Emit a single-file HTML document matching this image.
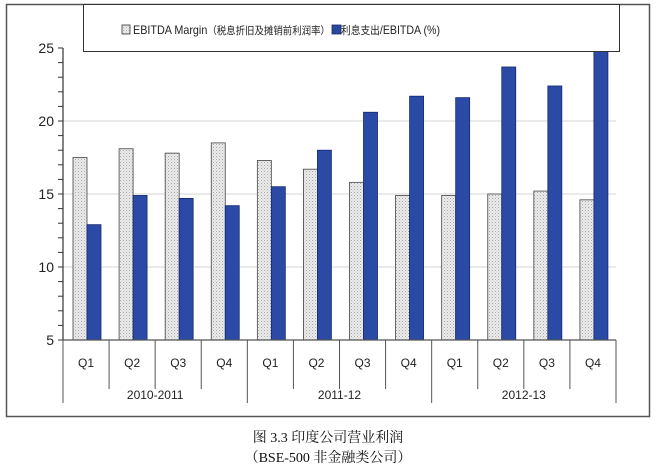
<!DOCTYPE html>
<html><head><meta charset="utf-8"><style>
body{margin:0;background:#fff;}
svg{display:block;font-family:"Liberation Sans","Noto Sans CJK SC",sans-serif;}
</style></head><body>
<svg id="c" width="656" height="470" viewBox="0 0 656 470">
<defs>
<pattern id="dots" width="3" height="3" patternUnits="userSpaceOnUse">
<rect width="3" height="3" fill="#ececec"/><rect width="1" height="1" fill="#a8a8a8"/><rect x="1.5" y="1.5" width="1" height="1" fill="#c0c0c0"/>
</pattern>
</defs>
<rect x="6.5" y="4.5" width="643" height="412" fill="#fff" stroke="#555" stroke-width="1.5"/>
<g id="grid"></g><g id="bars"></g><g id="axes"></g>
<g>
<rect x="83.5" y="4.5" width="536" height="47" fill="#fff" stroke="#333" stroke-width="1"/>
<rect x="122" y="25" width="8" height="9" fill="url(#dots)" stroke="#333" stroke-width="0.8"/>
<text x="133" y="34" font-size="12" fill="#222" textLength="197" lengthAdjust="spacingAndGlyphs">EBITDA Margin<tspan font-size="10.5">（税息折旧及摊销前利润率）</tspan></text>
<rect x="332" y="25" width="9" height="9" fill="#2848a0" stroke="#1a2a6a" stroke-width="0.8"/>
<text x="341" y="34" font-size="12" fill="#222" textLength="99" lengthAdjust="spacingAndGlyphs"><tspan font-size="11">利息支出</tspan>/EBITDA (%)</text>
</g>
<text x="328" y="442" text-anchor="middle" font-size="14" font-family="Liberation Serif,Noto Serif CJK SC,serif" fill="#111">图 3.3  印度公司营业利润</text>
<text x="328" y="462" text-anchor="middle" font-size="14" font-family="Liberation Serif,Noto Serif CJK SC,serif" fill="#111">（BSE-500 非金融类公司）</text>
</svg>
<script>
const quarters=["Q1","Q2","Q3","Q4","Q1","Q2","Q3","Q4","Q1","Q2","Q3","Q4"];
const years=["2010-2011","2011-12","2012-13"];
const ebitdaMargin=[17.5,18.1,17.8,18.5,17.3,16.7,15.8,14.9,14.9,15.0,15.2,14.6];
const interestRatio=[12.9,14.9,14.7,14.2,15.5,18.0,20.6,21.7,21.6,23.7,22.4,24.8];
const yTicks=[5,10,15,20,25];
const NS="http://www.w3.org/2000/svg";
const L=63,R=616,Y0=340,Y1=48,ymin=5,ymax=25;
const cw=(R-L)/quarters.length;
const y=v=>Y0-(v-ymin)/(ymax-ymin)*(Y0-Y1);
const x=i=>L+i*cw;
function mk(t,a,p){const e=document.createElementNS(NS,t);for(const k in a)e.setAttribute(k,a[k]);p.appendChild(e);return e;}
const grid=document.getElementById('grid'),bars=document.getElementById('bars'),axes=document.getElementById('axes');
yTicks.forEach(t=>{
 if(t>ymin&&t<ymax){const g=mk('line',{x1:L,x2:R,y1:y(t),y2:y(t),stroke:'#d4d4d4','stroke-width':1},grid);
 
 }
 const tx=mk('text',{x:L-9,y:y(t)+5,'text-anchor':'end','font-size':14,fill:'#222'},axes);tx.textContent=t;
 
 
});
for(let v=ymin;v<=ymax;v++){const tk=mk('line',{x1:L-5,x2:L,y1:y(v),y2:y(v),stroke:'#333','stroke-width':1},axes);
 
 }
const ax=mk('line',{x1:L,x2:L,y1:Y1,y2:Y0,stroke:'#333','stroke-width':1.2},axes);


const xa=mk('line',{x1:L,x2:R,y1:Y0,y2:Y0,stroke:'#555','stroke-width':1.2},axes);


quarters.forEach((q,i)=>{
 const b1=mk('rect',{x:x(i)+10,y:y(ebitdaMargin[i]),width:14,height:Y0-y(ebitdaMargin[i]),fill:'url(#dots)',stroke:'#444','stroke-width':0.8},bars);
 
 
 const b2=mk('rect',{x:x(i)+24,y:y(interestRatio[i]),width:14,height:Y0-y(interestRatio[i]),fill:'#2a4aa6',stroke:'#16296e','stroke-width':0.8},bars);
 
 
 const t=mk('text',{x:x(i)+cw/2,y:367,'text-anchor':'middle','font-size':12,fill:'#222'},axes);t.textContent=q;
 
 
 if(i>0&&i%4!==0){const d=mk('line',{x1:x(i),x2:x(i),y1:Y0,y2:389,stroke:'#555','stroke-width':1},axes);
 
 }
});
for(let k=0;k<=years.length;k++){const d=mk('line',{x1:x(k*4),x2:x(k*4),y1:Y0,y2:403,stroke:'#555','stroke-width':1},axes);
 
 }
years.forEach((yr,k)=>{const t=mk('text',{x:x(k*4)+2*cw,y:399,'text-anchor':'middle','font-size':12,fill:'#222'},axes);t.textContent=yr;
 
 });
</script>
</body></html>
